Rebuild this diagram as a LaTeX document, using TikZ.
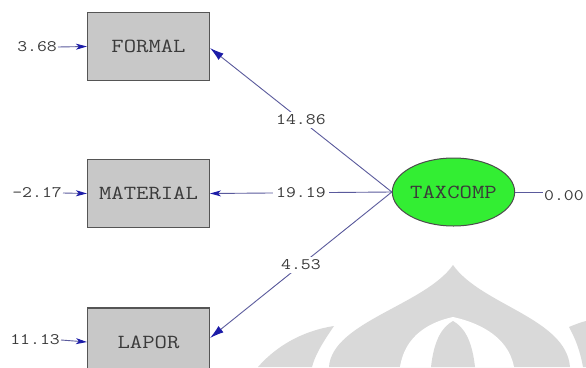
\documentclass[tikz,border=0pt]{standalone}
\usepackage{fontspec}
\newfontfamily\courlike{Latin Modern Mono}[FakeStretch=1.2]
\usetikzlibrary{arrows.meta,shapes.geometric}
\definecolor{linec}{HTML}{5A5A9C}
\definecolor{tipc}{HTML}{1C1CA8}
\definecolor{boxfill}{HTML}{C8C8C8}
\definecolor{boxdraw}{HTML}{555555}
\definecolor{greenfill}{HTML}{33EE33}
\definecolor{txt}{HTML}{3A3A3A}
\definecolor{wm}{HTML}{D9D9D9}
\begin{document}
\begin{tikzpicture}[x=1pt,y=-1pt,
  obs/.style={draw=boxdraw,line width=1.1pt,fill=boxfill,minimum width=122pt,minimum height=68pt,inner sep=0pt,
    font=\courlike\fontsize{20}{20}\selectfont,text=txt},
  lat/.style={ellipse,draw=black!70,line width=1pt,fill=greenfill,minimum width=119pt,minimum height=68pt,inner sep=0pt,
    font=\courlike\fontsize{20}{20}\selectfont,text=txt},
  num/.style={font=\courlike\fontsize{16}{16}\selectfont,text=txt,inner sep=1pt},
  lbl/.style={num,fill=white,inner sep=3pt},
  conn/.style={draw=linec,line width=0.9pt},
  tip/.style={-{Latex[length=14pt,width=8pt,color=tipc]}},
  errtip/.style={-{Stealth[length=11pt,width=6pt,inset=3pt,color=tipc]}}
]
\useasboundingbox (0,0) rectangle (586,367);
\clip (0,0) rectangle (586,367);
\fill[white] (0,0) rectangle (586,367);
% watermark
\fill[wm] (329,367) .. controls (332,322) and (425,305) .. (453,265) .. controls (481,305) and (566,318) .. (570,367) -- cycle;
\fill[white] (400,367) .. controls (405,335) and (430,322) .. (453,317) .. controls (476,322) and (508,335) .. (514,367) -- cycle;
\fill[wm] (431,367) .. controls (434,340) and (442,327) .. (453,321) .. controls (464,327) and (472,340) .. (475,367) -- cycle;
\fill[wm] (258,367) .. controls (280,342) and (308,330) .. (334,326) .. controls (323,342) and (315,355) .. (312,367) -- cycle;
\fill[wm] (569,327) .. controls (576,324) and (582,322) .. (586,321) -- (586,367) -- (583,367) .. controls (580,350) and (575,338) .. (569,327) -- cycle;
% nodes
\node[obs] (formal) at (148.5,46.5) {FORMAL};
\node[obs] (material) at (148.5,193.5) {MATERIAL};
\node[obs] (lapor) at (148.5,342) {LAPOR};
\node[lat] (taxcomp) at (453.5,192) {TAXCOMP};
\node[num,anchor=east] (e1) at (58,47) {3.68};
\node[num,anchor=east] (e2) at (63,193) {-2.17};
\node[num,anchor=east] (e3) at (61,340) {11.13};
\node[num,anchor=west] (e4) at (543,196) {0.00};
\coordinate (cf) at (210,48);
\coordinate (cl) at (210,338);
% error arrows
\draw[conn,errtip] (e1.east) -- (formal.west);
\draw[conn,errtip] (e2.east) -- (material.west);
\draw[conn,errtip] (e3.east) -- (lapor.west);
\draw[conn] (taxcomp.east) -- (e4.west |- taxcomp.east);
% loadings
\draw[conn,tip] (taxcomp.west) -- node[lbl] {14.86} (cf);
\draw[conn,errtip] (taxcomp.west) -- node[lbl] {19.19} (material.east);
\draw[conn,tip] (taxcomp.west) -- node[lbl] {4.53} (cl);
\end{tikzpicture}
\end{document}
